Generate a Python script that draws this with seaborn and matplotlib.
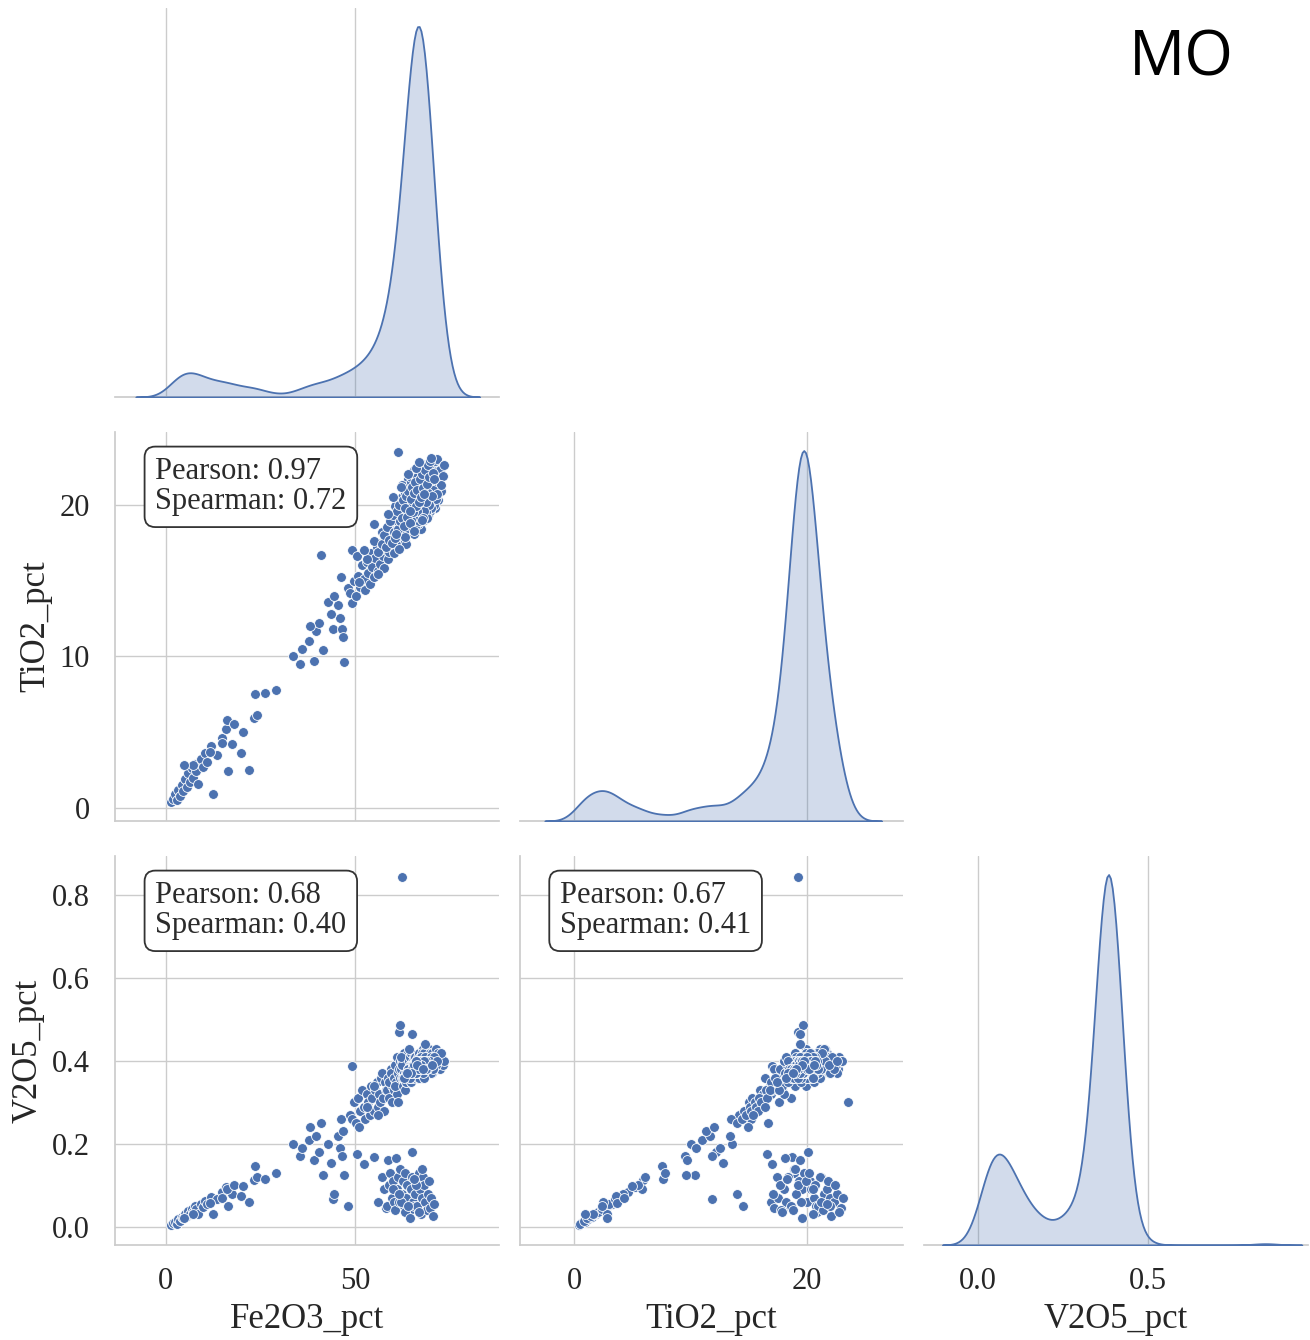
import matplotlib
matplotlib.use("Agg")
import matplotlib.pyplot as plt
import numpy as np
import pandas as pd
import seaborn as sns

# ---------------- data ----------------
# low line group
fe_low = [1.5, 2.0, 2.4, 2.9, 3.3, 3.8, 4.2, 4.6, 5.0, 5.5,
          5.9, 6.3, 6.8, 7.2, 7.7, 8.1, 8.6, 9.2, 9.8, 10.3,
          11.0, 11.8, 12.5, 13.6, 14.8, 16.0, 17.5, 19.8, 21.9, 23.2,
          24.0, 23.5, 26.3, 29.0,
          7.3, 11.7, 14.7, 16.1, 17.9, 20.5, 16.5, 4.7]
ti_low = [0.4, 0.6, 0.9, 0.5, 1.2, 0.8, 1.5, 1.1, 1.9, 1.4,
          2.3, 1.7, 2.6, 2.0, 2.9, 2.4, 1.6, 3.2, 2.7, 3.6,
          3.0, 4.1, 0.9, 3.5, 4.6, 5.2, 4.2, 3.6, 2.5, 5.9,
          6.1, 7.5, 7.6, 7.8,
          2.8, 3.7, 4.3, 5.8, 5.5, 5.0, 2.4, 2.8]
v_low = [0.004, 0.008, 0.012, 0.006, 0.018, 0.014, 0.024, 0.020, 0.032, 0.026,
         0.038, 0.030, 0.044, 0.036, 0.050, 0.042, 0.030, 0.056, 0.048, 0.062,
         0.055, 0.072, 0.030, 0.066, 0.085, 0.095, 0.080, 0.075, 0.060, 0.112,
         0.120, 0.147, 0.115, 0.131,
         0.030, 0.058, 0.070, 0.092, 0.100, 0.098, 0.050, 0.022]

# middle group
fe_mid = [33.6, 35.3, 36.0, 37.9, 39.2, 39.5, 40.5, 41.6, 41.0, 42.7,
          44.0, 45.5, 46.0, 46.2, 46.5, 47.0, 46.8, 49.2, 48.0, 44.5,
          38.0, 43.5]
ti_mid = [10.0, 9.5, 10.5, 11.0, 9.7, 11.7, 12.2, 10.4, 16.7, 13.6,
          11.8, 13.4, 12.5, 15.2, 11.8, 9.6, 11.3, 17.0, 14.5, 14.0,
          12.0, 12.8]
v_mid = [0.20, 0.17, 0.19, 0.21, 0.16, 0.22, 0.18, 0.126, 0.25, 0.20,
         0.066, 0.22, 0.19, 0.26, 0.17, 0.126, 0.23, 0.387, 0.05, 0.078,
         0.24, 0.155]

# lower-left tail of the main (high V2O5) cluster
fe_tail = [48.5, 49.0, 49.6, 50.2, 50.8, 51.3, 51.7, 52.2, 52.6, 53.0,
           53.4, 53.8, 54.1, 54.5, 54.9, 55.2, 55.6, 55.9, 56.3, 56.6,
           56.9, 57.2, 57.5, 57.8, 58.1, 51.0, 53.2, 55.0, 56.0, 57.0]
ti_tail = [14.2, 13.5, 15.0, 14.0, 15.3, 14.6, 16.0, 15.1, 14.4, 16.2,
           15.5, 14.8, 16.8, 15.9, 15.2, 16.5, 17.2, 15.6, 16.9, 16.1,
           17.5, 16.6, 15.8, 17.8, 17.0, 14.9, 16.4, 17.6, 15.4, 18.2]
v_tail = [0.27, 0.26, 0.30, 0.25, 0.31, 0.28, 0.33, 0.29, 0.26, 0.32,
          0.30, 0.27, 0.34, 0.31, 0.28, 0.33, 0.35, 0.29, 0.32, 0.30,
          0.36, 0.31, 0.28, 0.35, 0.33, 0.24, 0.29, 0.34, 0.27, 0.37]

# main cluster (high V2O5), outer part
fe_core = [58.3, 58.7, 59.0, 59.3, 59.6, 59.8, 58.9, 59.5,
           60.1, 60.3, 60.5, 60.7, 60.9, 61.1, 61.3, 61.5, 61.6, 61.8, 61.2, 61.7, 60.4, 61.9,
           62.1, 62.2, 62.4, 62.5, 62.7, 62.8, 62.9, 63.0, 63.1, 63.2, 63.3, 63.4, 63.5, 63.6,
           63.7, 63.8, 63.9, 62.6, 63.0, 62.3, 63.5, 62.0,
           64.0, 64.1, 64.2, 64.3, 64.4, 64.5, 64.6, 64.7, 64.8, 64.9, 65.0, 65.1, 65.2, 65.3,
           65.4, 65.5, 65.6, 65.7, 65.8, 65.9, 64.2, 64.6, 65.0, 65.4, 65.8, 64.4, 65.2, 65.6,
           64.8, 65.9,
           66.0, 66.1, 66.2, 66.3, 66.4, 66.5, 66.6, 66.7, 66.8, 66.9, 67.0, 67.1, 67.2, 67.3,
           67.4, 67.5, 67.6, 67.7, 67.8, 67.9, 66.2, 66.6, 67.0, 67.4, 67.8, 66.4, 66.8, 67.2,
           67.6, 66.0, 66.9, 67.3,
           68.0, 68.1, 68.3, 68.4, 68.6, 68.7, 68.9, 69.0, 69.2, 69.3, 69.5, 69.6, 69.8, 69.9,
           68.2, 68.5, 68.8, 69.1, 69.4, 69.7, 68.6, 69.0, 69.5, 68.3,
           70.0, 70.2, 70.4, 70.6, 70.8, 71.0, 71.2, 71.4, 71.6, 71.8, 70.3, 70.9, 71.5, 71.9,
           72.1, 72.4, 72.7, 73.0, 73.4, 72.5,
           62.3]
ti_core = [17.9, 16.4, 18.6, 17.2, 19.0, 17.6, 16.9, 18.1,
           18.3, 16.8, 19.4, 17.5, 18.9, 18.0, 20.1, 17.7, 19.2, 18.5, 23.5, 19.7, 19.9, 17.3,
           19.6, 18.2, 20.5, 17.9, 19.1, 21.0, 18.6, 19.9, 17.6, 20.8, 18.9, 19.5, 21.4, 18.3,
           20.2, 19.0, 21.7, 20.0, 18.0, 21.3, 17.4, 19.3,
           20.1, 18.7, 21.2, 19.4, 22.0, 18.2, 20.6, 19.0, 21.5, 19.8, 19.4, 20.9, 18.5, 20.3,
           22.3, 19.1, 21.0, 19.7, 20.5, 18.8, 19.9, 21.8, 20.7, 18.1, 21.9, 20.4, 19.3, 20.0,
           18.4, 21.3,
           20.2, 19.0, 21.4, 20.6, 18.6, 22.1, 19.6, 20.9, 19.2, 21.7, 20.4, 18.9, 22.4, 20.0,
           21.2, 19.5, 22.7, 20.7, 19.3, 21.6, 20.0, 21.1, 19.8, 20.3, 22.0, 21.8, 20.5, 21.0,
           19.9, 19.4, 22.5, 18.4,
           20.8, 19.6, 21.9, 20.3, 22.6, 19.9, 21.4, 20.6, 22.2, 19.7, 21.1, 20.4, 22.8, 21.7,
           21.2, 20.0, 22.1, 19.3, 21.9, 20.9, 21.5, 22.4, 20.1, 19.4,
           21.3, 20.4, 22.5, 21.8, 20.9, 22.9, 21.5, 20.7, 22.2, 21.2, 22.0, 19.8, 23.0, 20.3,
           21.6, 22.3, 20.9, 21.9, 22.6, 21.3,
           19.2]
v_core = [0.33, 0.36, 0.31, 0.38, 0.34, 0.30, 0.35, 0.37,
          0.36, 0.33, 0.39, 0.35, 0.41, 0.32, 0.37, 0.38, 0.47, 0.40, 0.30, 0.487, 0.34, 0.36,
          0.38, 0.36, 0.40, 0.34, 0.39, 0.42, 0.37, 0.36, 0.33, 0.41, 0.38, 0.35, 0.40, 0.39,
          0.37, 0.42, 0.38, 0.36, 0.40, 0.39, 0.35, 0.41,
          0.38, 0.36, 0.40, 0.39, 0.37, 0.41, 0.35, 0.38, 0.42, 0.37, 0.466, 0.39, 0.36, 0.40,
          0.38, 0.41, 0.37, 0.39, 0.36, 0.40, 0.43, 0.39, 0.38, 0.37, 0.41, 0.36, 0.39, 0.38,
          0.35, 0.40,
          0.38, 0.40, 0.37, 0.39, 0.36, 0.41, 0.38, 0.40, 0.37, 0.42, 0.39, 0.38, 0.40, 0.36,
          0.41, 0.39, 0.38, 0.40, 0.37, 0.43, 0.39, 0.36, 0.41, 0.38, 0.39, 0.40, 0.38, 0.37,
          0.42, 0.37, 0.39, 0.40,
          0.39, 0.41, 0.38, 0.40, 0.37, 0.42, 0.39, 0.41, 0.38, 0.40, 0.43, 0.39, 0.41, 0.38,
          0.42, 0.37, 0.40, 0.39, 0.37, 0.42, 0.41, 0.40, 0.38, 0.44,
          0.40, 0.42, 0.39, 0.41, 0.38, 0.40, 0.43, 0.39, 0.41, 0.38, 0.37, 0.41, 0.40, 0.42,
          0.40, 0.38, 0.41, 0.39, 0.40, 0.42,
          0.845]

# main cluster, densely packed centre (overlapping markers)
fe_dense = [66.2, 67.1, 65.8, 68.0, 66.9, 67.5, 65.4, 68.4, 66.6, 67.8,
            67.3, 66.0, 68.7, 65.1, 67.0, 66.4, 68.2, 64.8, 67.6, 66.8,
            65.6, 67.9, 66.3, 69.0, 64.5, 67.2, 68.9, 65.9, 66.7, 68.1,
            66.5, 67.7, 65.3, 68.6, 66.1, 67.4, 69.3, 64.2, 66.9, 68.3,
            67.0, 65.7, 68.5, 66.2, 67.9, 69.6, 65.0, 66.6, 68.0, 67.3,
            66.3, 67.6, 64.7, 68.8, 66.8, 70.0, 65.5, 67.1, 68.2, 66.0,
            67.5, 66.4, 69.1, 65.2, 67.8, 66.7, 68.6, 63.8, 67.2, 69.8,
            66.1, 67.4, 65.8, 68.4, 66.9, 70.4, 64.9, 67.0, 68.9, 66.5,
            67.7, 66.2, 68.1, 65.4, 67.3, 69.4, 66.6, 64.4, 68.7, 67.9,
            66.0, 67.1, 65.6, 68.3, 66.8, 70.8, 65.1, 67.6, 69.2, 66.4,
            67.4, 66.5, 68.8, 64.6, 67.0, 69.7, 65.9, 66.9, 68.5, 67.2,
            66.1, 67.8, 65.2, 68.0, 66.6, 71.2, 64.0, 67.5, 69.0, 66.3,
            67.0, 65.7, 68.4, 66.2, 67.7, 69.9, 65.3, 66.8, 68.2, 67.4,
            66.4, 67.3, 64.3, 68.7, 66.0, 70.6, 65.0, 67.9, 69.5, 66.7,
            67.6, 66.1, 68.9, 65.5, 67.1, 63.3, 69.3, 66.5, 68.1, 62.8,
            66.8, 67.2, 65.9, 68.6, 66.3, 71.6, 64.6, 67.8, 70.2, 63.6]
ti_dense = [19.5, 19.8, 19.2, 20.1, 19.4, 20.3, 18.9, 19.7, 20.0, 19.3,
            19.6, 19.0, 20.4, 18.8, 19.9, 19.3, 19.5, 18.6, 20.2, 19.7,
            19.4, 20.0, 19.1, 20.6, 18.7, 19.4, 19.8, 19.9, 20.5, 19.2,
            19.8, 19.5, 19.6, 20.0, 20.2, 19.1, 20.3, 18.9, 19.3, 20.7,
            19.1, 19.6, 19.4, 20.4, 20.6, 20.1, 19.0, 19.2, 19.9, 20.0,
            18.8, 19.3, 19.5, 19.6, 20.1, 20.5, 18.5, 20.4, 19.1, 20.0,
            19.7, 19.9, 19.3, 19.1, 19.0, 19.5, 20.8, 18.7, 20.3, 19.6,
            19.6, 20.2, 18.9, 19.4, 19.2, 20.2, 19.3, 19.8, 19.9, 20.3,
            19.4, 19.7, 20.0, 19.8, 19.5, 19.7, 18.7, 19.2, 20.1, 20.4,
            19.3, 18.9, 20.1, 19.8, 20.6, 20.0, 19.7, 19.1, 20.7, 19.5,
            20.0, 19.0, 19.7, 19.5, 19.6, 20.9, 19.4, 19.9, 19.2, 19.8,
            20.2, 19.6, 19.9, 19.0, 19.8, 20.4, 18.8, 20.6, 19.5, 19.1,
            19.5, 18.6, 20.3, 19.6, 20.1, 19.8, 20.0, 19.4, 20.5, 19.3,
            19.9, 19.2, 19.7, 19.5, 20.3, 21.0, 18.9, 19.7, 20.0, 18.9,
            20.4, 19.4, 19.1, 19.3, 20.0, 18.4, 20.8, 20.0, 19.6, 18.2,
            19.2, 20.5, 19.8, 20.2, 19.6, 20.7, 19.0, 19.1, 20.6, 18.8]
v_dense = [0.38, 0.39, 0.37, 0.40, 0.38, 0.39, 0.37, 0.38, 0.40, 0.39,
           0.39, 0.37, 0.38, 0.36, 0.40, 0.38, 0.39, 0.37, 0.38, 0.39,
           0.38, 0.40, 0.39, 0.37, 0.36, 0.41, 0.38, 0.39, 0.37, 0.40,
           0.39, 0.38, 0.38, 0.39, 0.37, 0.39, 0.40, 0.36, 0.38, 0.41,
           0.37, 0.39, 0.38, 0.40, 0.38, 0.39, 0.37, 0.39, 0.38, 0.36,
           0.38, 0.40, 0.37, 0.38, 0.39, 0.41, 0.38, 0.37, 0.39, 0.40,
           0.39, 0.38, 0.40, 0.37, 0.38, 0.36, 0.39, 0.38, 0.40, 0.38,
           0.37, 0.39, 0.38, 0.40, 0.39, 0.38, 0.39, 0.40, 0.37, 0.38,
           0.38, 0.40, 0.39, 0.38, 0.37, 0.39, 0.38, 0.36, 0.38, 0.39,
           0.39, 0.38, 0.37, 0.39, 0.40, 0.41, 0.38, 0.39, 0.38, 0.37,
           0.38, 0.39, 0.38, 0.37, 0.39, 0.40, 0.38, 0.37, 0.40, 0.39,
           0.40, 0.38, 0.39, 0.38, 0.37, 0.39, 0.38, 0.39, 0.38, 0.39,
           0.37, 0.38, 0.39, 0.40, 0.38, 0.37, 0.39, 0.38, 0.36, 0.40,
           0.39, 0.38, 0.37, 0.40, 0.39, 0.38, 0.38, 0.37, 0.39, 0.38,
           0.40, 0.37, 0.38, 0.39, 0.38, 0.37, 0.39, 0.38, 0.40, 0.36,
           0.38, 0.39, 0.40, 0.38, 0.39, 0.40, 0.37, 0.38, 0.39, 0.37]

# low V2O5 part of the main cluster
fe_dn = [50.5, 52.3, 54.9, 65.0, 56.0, 57.0, 57.5, 58.0, 58.4, 58.8,
         59.2, 59.6, 60.0, 60.3, 60.6, 61.0, 61.3, 61.6, 61.9, 62.2,
         62.5, 62.8, 63.1, 63.4, 63.7, 64.0, 64.3, 64.6, 64.9, 65.2,
         65.5, 65.8, 66.1, 66.4, 66.7, 67.0, 67.3, 67.6, 67.9, 68.2,
         68.5, 68.8, 69.1, 69.4, 69.7, 70.0, 70.4, 58.6, 63.0, 66.0,
         60.8, 62.0, 64.5, 67.5, 59.9, 65.6, 63.8, 61.5, 66.9, 70.8]
ti_dn = [16.6, 17.0, 18.7, 20.1, 16.9, 17.4, 18.0, 17.2, 18.5, 17.7,
         18.9, 17.5, 19.3, 18.2, 17.8, 19.6, 18.4, 20.0, 18.9, 19.1,
         20.3, 18.6, 19.8, 20.6, 19.2, 20.9, 18.8, 20.4, 21.2, 19.5,
         20.8, 21.5, 19.9, 21.0, 20.2, 21.7, 20.5, 22.0, 21.1, 20.7,
         22.3, 21.4, 22.6, 21.8, 22.9, 23.1, 22.1, 19.4, 17.9, 22.4,
         18.1, 21.2, 19.6, 19.0, 20.5, 18.3, 22.0, 17.1, 22.8, 21.7]
v_dn = [0.176, 0.152, 0.168, 0.18, 0.06, 0.12, 0.09, 0.045, 0.05, 0.10,
        0.13, 0.07, 0.11, 0.06, 0.04, 0.09, 0.12, 0.06, 0.14, 0.08,
        0.11, 0.05, 0.13, 0.07, 0.10, 0.035, 0.04, 0.09, 0.12, 0.06,
        0.05, 0.08, 0.11, 0.05, 0.13, 0.09, 0.03, 0.07, 0.12, 0.10,
        0.06, 0.04, 0.08, 0.11, 0.045, 0.07, 0.025, 0.16, 0.035, 0.10,
        0.165, 0.06, 0.02, 0.14, 0.09, 0.115, 0.05, 0.08, 0.035, 0.055]

variables = ["Fe2O3_pct", "TiO2_pct", "V2O5_pct"]
kde_bw_adjust = [0.65, 0.65, 0.9]
pearson_vals = [0.97, 0.68, 0.67]
spearman_vals = [0.72, 0.40, 0.41]
annot_cells = [(1, 0), (2, 0), (2, 1)]
fe_ticks = [0, 50]
ti_ticks = [0, 20]
v_ticks_x = [0.0, 0.5]
ti_ticks_y = [0, 10, 20]
v_ticks_y = [0.0, 0.2, 0.4, 0.6, 0.8]
title_text = "MO"

df = pd.DataFrame({
    "Fe2O3_pct": fe_low + fe_mid + fe_tail + fe_core + fe_dense + fe_dn,
    "TiO2_pct": ti_low + ti_mid + ti_tail + ti_core + ti_dense + ti_dn,
    "V2O5_pct": v_low + v_mid + v_tail + v_core + v_dense + v_dn,
})

# ---------------- style ----------------
sns.set_theme(style="whitegrid")
plt.rcParams["font.family"] = ["Liberation Serif", "DejaVu Serif"]
plt.rcParams.update({
    "xtick.labelsize": 22,
    "ytick.labelsize": 22,
    "axes.labelsize": 25,
    "xtick.major.pad": 10,
    "ytick.major.pad": 12,
    "axes.labelpad": 5,
})

blue = "#4c72b0"
bw_lookup = dict(zip(variables, kde_bw_adjust))


def diag_kde(x, hue=None, hue_order=None, palette=None, **kws):
    sns.kdeplot(x=x, bw_adjust=bw_lookup[x.name], ax=plt.gca(), **kws)


g = sns.PairGrid(df, vars=variables, corner=True, diag_sharey=False,
                 height=4.4, aspect=0.98)
g.map_lower(sns.scatterplot, s=50, color=blue, edgecolor="white", linewidth=0.6)
g.map_diag(diag_kde, fill=True, color=blue, linewidth=1.3, alpha=0.25)

fig = g.figure
fig.set_size_inches(13.1, 13.4)
fig.subplots_adjust(left=115 / 1310, right=1308 / 1310, top=1 - 8 / 1340,
                    bottom=1 - 1245 / 1340, wspace=0.055, hspace=0.09)

ax_fe = g.axes[2, 0]
ax_ti = g.axes[2, 1]
ax_v = g.axes[2, 2]
ax_fe.set_xticks(fe_ticks)
ax_ti.set_xticks(ti_ticks)
ax_v.set_xticks(v_ticks_x)
ax_fe.set_xlim(-13.4, 87.8)
ax_ti.set_xlim(-4.7, 28.3)
ax_v.set_xlim(-0.156, 0.97)
g.axes[1, 0].set_yticks(ti_ticks_y)
g.axes[1, 0].set_ylim(-0.87, 24.8)
ax_fe.set_yticks(v_ticks_y)
ax_fe.set_ylim(-0.044, 0.895)

for (r, c), p, s_ in zip(annot_cells, pearson_vals, spearman_vals):
    ax = g.axes[r, c]
    ax.text(0.105, 0.935, f"Pearson: {p:.2f}\nSpearman: {s_:.2f}",
            transform=ax.transAxes, ha="left", va="top", fontsize=22,
            linespacing=1.05, color="#2b2b2b", zorder=10,
            bbox=dict(boxstyle="round,pad=0.35", fc="white", ec="#333333", lw=1.3))

fig.text(1181 / 1310, 1 - 59 / 1340, title_text, ha="center", va="center",
         fontsize=45, family=["Open Sans", "DejaVu Sans"], color="black")

fig.savefig("out.png", dpi=100)
